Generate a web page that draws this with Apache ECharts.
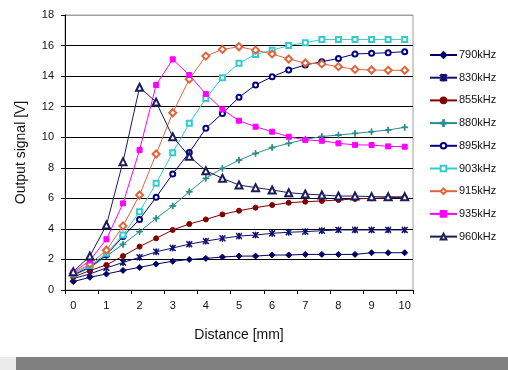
<!DOCTYPE html>
<html>
<head>
<meta charset="utf-8">
<script src="https://cdn.jsdelivr.net/npm/echarts@6/dist/echarts.min.js"></script>
<style>
  html, body { margin: 0; padding: 0; background: #fff; }
  #chart { width: 508px; height: 370px; }
</style>
</head>
<body>
<div id="chart"></div>
<script>
// distance in 0.5 mm steps (category axis, labels every 1 mm)
var distances = ['0','0.5','1','1.5','2','2.5','3','3.5','4','4.5','5','5.5','6','6.5','7','7.5','8','8.5','9','9.5','10'];

var s790 = [0.55,0.83,1.05,1.28,1.48,1.7,1.88,2.0,2.07,2.16,2.22,2.22,2.29,2.29,2.33,2.33,2.33,2.33,2.44,2.44,2.44];
var s830 = [0.75,1.05,1.45,1.8,2.14,2.5,2.75,3.0,3.2,3.38,3.53,3.6,3.71,3.78,3.82,3.88,3.93,3.93,3.93,3.93,3.93];
var s855 = [0.85,1.27,1.64,2.22,2.84,3.38,3.93,4.32,4.62,4.95,5.19,5.39,5.56,5.71,5.78,5.83,5.89,5.96,6.0,6.04,6.07];
var s880 = [0.95,1.45,2.22,2.99,3.82,4.69,5.5,6.43,7.31,7.96,8.5,8.94,9.32,9.6,9.86,10.05,10.14,10.25,10.36,10.47,10.65];
var s895 = [1.0,1.5,2.3,3.5,4.62,6.07,7.6,9.0,10.58,11.56,12.61,13.42,13.96,14.4,14.73,14.94,15.16,15.45,15.49,15.53,15.6];
var s903 = [1.05,1.6,2.4,3.6,5.13,6.98,8.99,10.91,12.54,13.9,14.84,15.42,15.7,16.0,16.19,16.4,16.4,16.4,16.4,16.4,16.4];
var s915 = [1.1,1.7,2.6,4.19,6.22,8.9,11.6,13.8,15.31,15.75,15.92,15.7,15.45,15.12,14.86,14.8,14.62,14.44,14.4,14.38,14.38];
var s935 = [1.15,1.93,3.32,5.67,9.16,13.42,15.1,14.07,12.83,11.82,11.08,10.69,10.36,10.03,9.82,9.77,9.6,9.5,9.49,9.4,9.38];
var s960 = [1.2,2.22,4.25,8.4,13.27,12.3,10.03,8.75,7.81,7.31,6.87,6.7,6.55,6.37,6.28,6.22,6.15,6.15,6.11,6.1,6.1];

var yTicks = [0,2,4,6,8,10,12,14,16,18];

var myChart = echarts.init(document.getElementById('chart'));

// marker shapes not built into echarts
var starPath = 'path://M-0.5,-4L0.5,-4L0.5,4L-0.5,4Z M-3.9,-3.2L-3.2,-3.9L3.9,3.2L3.2,3.9Z M-3.9,3.2L3.2,-3.9L3.9,-3.2L-3.2,3.9Z';
var plusPath = 'path://M-0.5,-4L0.5,-4L0.5,4L-0.5,4Z M-4,-0.5L4,-0.5L4,0.5L-4,0.5Z';

function mkSeries(name, data, color, symbol, size) {
    return {
        name: name,
        type: 'line',
        data: data,
        symbol: symbol,
        symbolSize: size,
        showAllSymbol: true,
        smooth: false,
        animation: false,
        lineStyle: { width: 1, color: color },
        itemStyle: { color: color, borderColor: color, borderWidth: 1 }
    };
}

var option = {
    backgroundColor: '#fff',
    animation: false,
    textStyle: { fontFamily: '"Liberation Sans", Arial, sans-serif' },
    grid: {
        left: 65,
        top: 15,
        right: 95,
        bottom: 80,
        show: true,
        borderColor: '#a0a0a0',
        borderWidth: 1
    },
    legend: {
        orient: 'vertical',
        left: 429,
        top: 49,
        padding: 0,
        itemWidth: 27,
        itemHeight: 7,
        itemGap: 10.7,
        textStyle: { color: '#111', fontSize: 11, lineHeight: 12, padding: [0, 0, 0, -3] },
        data: ['790kHz','830kHz','855kHz','880kHz','895kHz','903kHz','915kHz','935kHz','960kHz']
    },
    xAxis: {
        type: 'category',
        data: distances,
        boundaryGap: true,
        name: 'Distance [mm]',
        nameLocation: 'middle',
        nameGap: 38,
        nameTextStyle: { color: '#111', fontSize: 14 },
        axisLine: { lineStyle: { color: '#000', width: 1 } },
        axisTick: { show: true, interval: 1, length: 4, lineStyle: { color: '#000' } },
        axisLabel: { interval: 1, color: '#111', fontSize: 11, margin: 10 },
        splitLine: { show: false }
    },
    yAxis: {
        type: 'value',
        min: yTicks[0],
        max: yTicks[yTicks.length - 1],
        interval: 2,
        name: 'Output signal [V]',
        nameLocation: 'middle',
        nameGap: 37,
        nameTextStyle: { color: '#111', fontSize: 14 },
        axisLine: { show: true, lineStyle: { color: '#000', width: 1 } },
        axisTick: { show: true, length: 4, lineStyle: { color: '#000' } },
        axisLabel: { color: '#111', fontSize: 11, margin: 11 },
        splitLine: {
            show: true,
            lineStyle: { color: ['#000','#000','#000','#000','#000','#000','#000','#000','#000','#a0a0a0'], width: 1 }
        }
    },
    graphic: [
        { type: 'rect', left: 16, top: 357, shape: { width: 492, height: 13 }, style: { fill: '#808080' }, silent: true },
        { type: 'rect', left: 0, top: 357, shape: { width: 16, height: 13 }, style: { fill: '#ececec' }, silent: true }
    ],
    series: [
        mkSeries('790kHz', s790, '#000066', 'diamond', 6),
        mkSeries('830kHz', s830, '#101070', starPath, 6),
        mkSeries('855kHz', s855, '#800000', 'circle', 5),
        mkSeries('880kHz', s880, '#2a8c8c', plusPath, 6),
        mkSeries('895kHz', s895, '#000080', 'emptyCircle', 5),
        mkSeries('903kHz', s903, '#33cccc', 'emptyRect', 5),
        mkSeries('915kHz', s915, '#e0643c', 'emptyDiamond', 7),
        mkSeries('935kHz', s935, '#ff00ff', 'rect', 5),
        mkSeries('960kHz', s960, '#1c1c5c', 'emptyTriangle', 7)
    ]
};

option && myChart.setOption(option);
</script>
</body>
</html>
